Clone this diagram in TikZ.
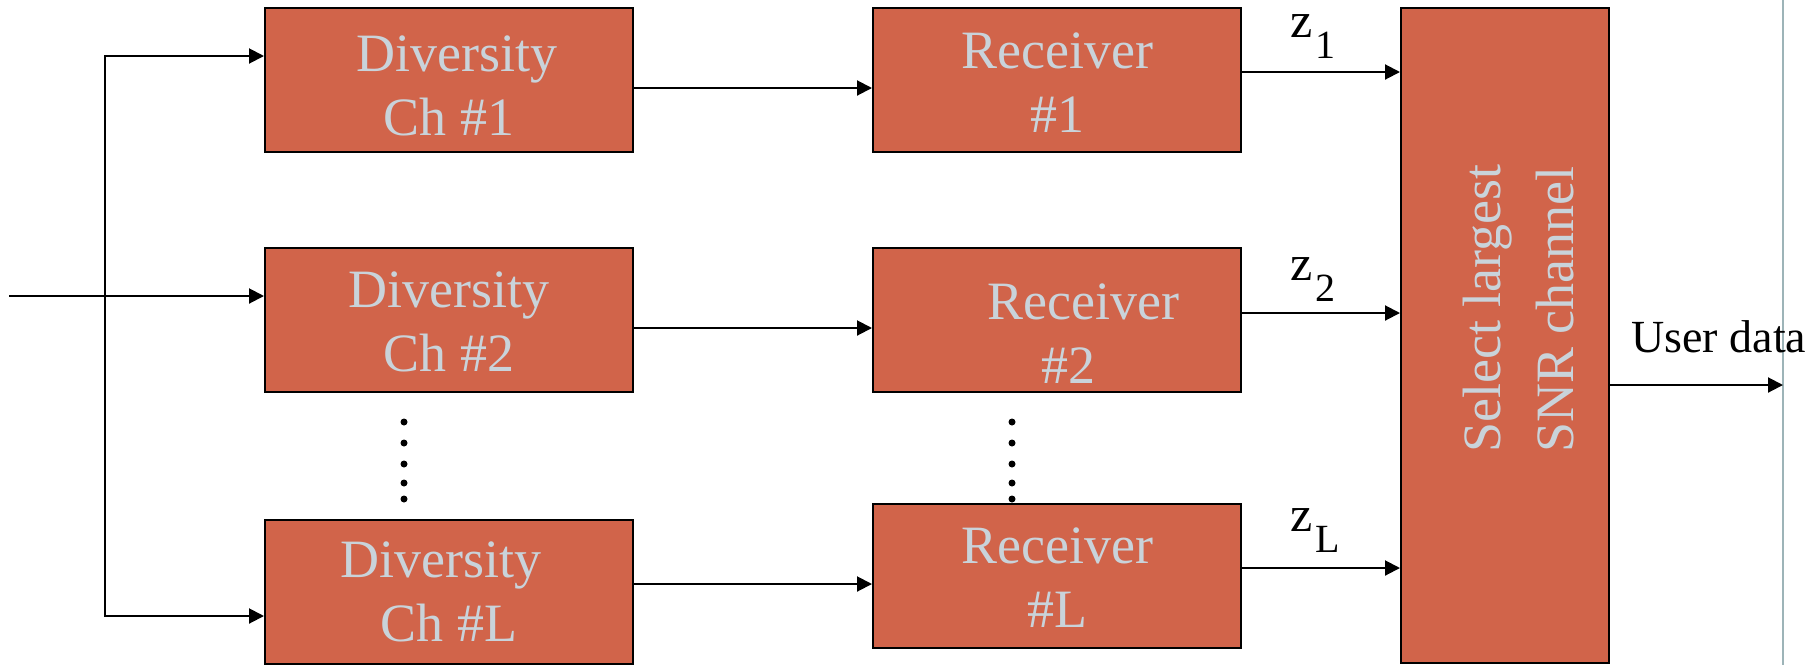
\documentclass[tikz,border=0pt]{standalone}
\usepackage{fontspec}
\setmainfont{Liberation Serif}
\usetikzlibrary{arrows.meta}
\definecolor{blockfill}{HTML}{D1644A}
\definecolor{blocktext}{HTML}{C9D3DA}
\definecolor{edgegray}{HTML}{9DB4B8}
% invisible strut that sets the height of a first text line
\newcommand{\firstline}[1]{\rule{0pt}{#1}}
% signal label with a lowered index
\newcommand{\zsig}[1]{z\kern1.5pt\raisebox{-10.5pt}{\fontsize{20}{24}\selectfont #1}}
\begin{document}
\begin{tikzpicture}[x=0.5pt,y=-0.5pt,
  blk/.style={draw=black, line width=1pt, fill=blockfill, text=blocktext,
    minimum width=184pt, minimum height=72pt, inner sep=0pt, align=center,
    font=\fontsize{27}{32}\selectfont},
  arr/.style={line width=1pt, -{Triangle[length=7.5pt,width=7.5pt]}},
  lbl/.style={inner sep=0pt, anchor=base west, font=\fontsize{25}{30}\selectfont}]
\useasboundingbox (0,0) rectangle (1814,665);

% right-hand edge rule
\draw[edgegray, line width=0.6pt] (1783,0) -- (1783,665);

% diversity channels
\node[blk] (ch1) at (449,80)  {\firstline{24pt}\hspace*{8pt}Diversity\\Ch \#1};
\node[blk] (ch2) at (449,320) {\firstline{20pt}Diversity\\Ch \#2};
\node[blk] (chL) at (449,592) {\firstline{18pt}Diversity\hspace*{8pt}\\Ch \#L};

% receivers
\node[blk] (rx1) at (1057,80)  {\firstline{20pt}Receiver\\\#1};
\node[blk] (rx2) at (1057,320) {\firstline{31pt}\hspace*{26pt}Receiver\\\hspace*{11pt}\#2};
\node[blk] (rxL) at (1057,576) {\firstline{19pt}Receiver\\\#L};

% selection combiner
\node[blk, minimum width=104pt, minimum height=327.5pt,
      font=\fontsize{27}{36.5}\selectfont] (sel) at (1505,335.5)
  {\rotatebox{90}{\hspace*{27pt}\rule{0pt}{42.5pt}\begin{tabular}[t]{@{}l@{}}Select largest\\SNR channel\end{tabular}}};

% omitted branches
\foreach \yy in {422,443,464,483,499} {
  \fill (404,\yy) circle[radius=1.75pt];
  \fill (1012,\yy) circle[radius=1.75pt];
}

% input and fan-out
\coordinate (src) at (9,296);
\coordinate (forktop) at (105,56);
\coordinate (forkbot) at (105,616);
\coordinate (out) at (1783,385);

\draw[arr] (src) -- (src -| ch2.west);
\draw[arr] (forkbot) -- (forktop) -- (forktop -| ch1.west);
\draw[arr] (forktop) -- (forkbot) -- (forkbot -| chL.west);

% channel to receiver
\draw[arr] (ch1.east |- 0,88)  -- (rx1.west |- 0,88);
\draw[arr] (ch2.east |- 0,328) -- (rx2.west |- 0,328);
\draw[arr] (chL.east |- 0,584) -- (rxL.west |- 0,584);

% receiver to selector
\draw[arr] (rx1.east |- 0,72)  -- (sel.west |- 0,72);
\draw[arr] (rx2.east |- 0,313) -- (sel.west |- 0,313);
\draw[arr] (rxL.east |- 0,568) -- (sel.west |- 0,568);

% output
\draw[arr] (sel.east |- out) -- (out);

% labels
\node[lbl] (z1) at (1290,37)  {\zsig{1}};
\node[lbl] (z2) at (1290,280) {\zsig{2}};
\node[lbl] (zL) at (1290,531) {\zsig{L}};
\node[lbl, font=\fontsize{23}{28}\selectfont] (ud) at (1631,352) {User data};
\end{tikzpicture}
\end{document}
